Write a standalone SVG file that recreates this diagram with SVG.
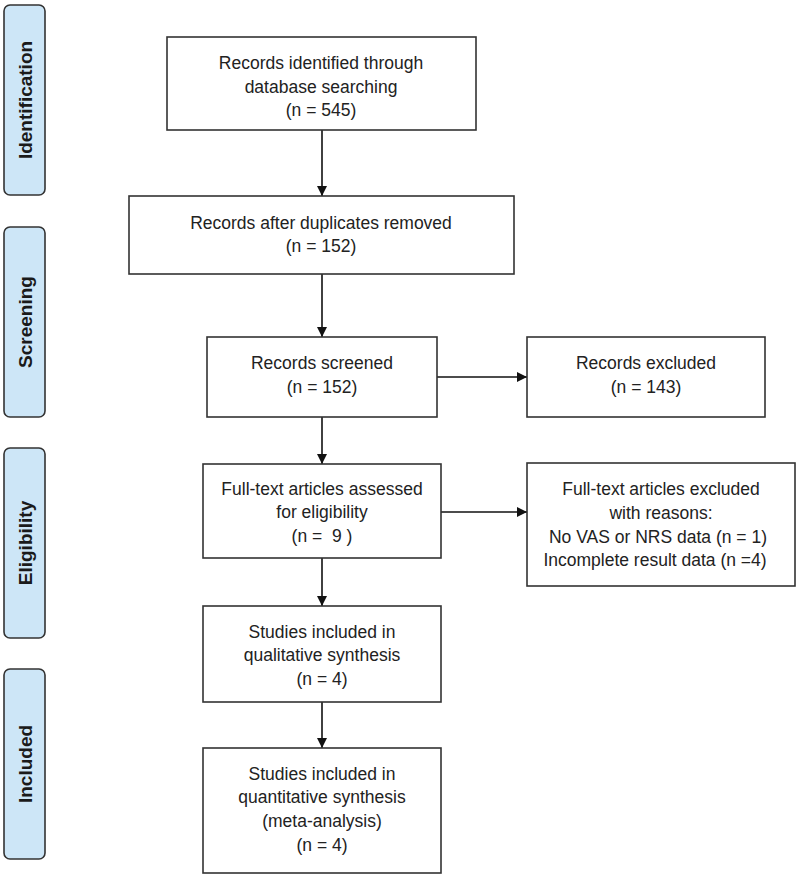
<svg xmlns="http://www.w3.org/2000/svg" width="800" height="880" viewBox="0 0 800 880">
<defs>
<style>
.box{fill:#fff;stroke:#333;stroke-width:1.6}
.lab{fill:#cde6f7;stroke:#333;stroke-width:1.6}
.t{font-family:"Liberation Sans",Arial,sans-serif;font-size:17.5px;fill:#222;text-anchor:middle}
.s{font-family:"Liberation Sans",Arial,sans-serif;font-size:19px;font-weight:bold;fill:#1a1a1a;text-anchor:middle}
.c{stroke:#111;stroke-width:1.6;fill:none;marker-end:url(#ah)}
</style>
<marker id="ah" viewBox="0 0 10 10" refX="10" refY="5" markerWidth="10" markerHeight="10" markerUnits="userSpaceOnUse" orient="auto">
<path d="M0,0 L10,5 L0,10 z" fill="#111"/>
</marker>
</defs>
<rect width="800" height="880" fill="#fff"/>
<g id="stage-identification"><rect class="lab" x="4" y="5" width="41" height="190" rx="6"/><text class="s" transform="translate(32,100) rotate(-90)">Identification</text></g>
<g id="stage-screening"><rect class="lab" x="4" y="227" width="41" height="190" rx="6"/><text class="s" transform="translate(32,322) rotate(-90)">Screening</text></g>
<g id="stage-eligibility"><rect class="lab" x="4" y="448" width="41" height="190" rx="6"/><text class="s" transform="translate(32,543) rotate(-90)">Eligibility</text></g>
<g id="stage-included"><rect class="lab" x="4" y="669" width="41" height="190" rx="6"/><text class="s" transform="translate(32,764) rotate(-90)">Included</text></g>

<g id="connectors">
<line class="c" x1="322" y1="130" x2="322" y2="196"/>
<line class="c" x1="322" y1="274" x2="322" y2="337"/>
<line class="c" x1="322" y1="417" x2="322" y2="464"/>
<line class="c" x1="322" y1="558" x2="322" y2="606"/>
<line class="c" x1="322" y1="702" x2="322" y2="748"/>
<line class="c" x1="437" y1="377" x2="527" y2="377"/>
<line class="c" x1="441" y1="512" x2="527" y2="512"/>
</g>

<g id="n-identified"><rect class="box" x="167" y="37" width="309" height="93"/>
<text class="t" x="321" y="69">Records identified through</text>
<text class="t" x="321" y="93">database searching</text>
<text class="t" x="321" y="116">(n = 545)</text></g>
<g id="n-duplicates"><rect class="box" x="129" y="196" width="385" height="78"/>
<text class="t" x="321" y="229">Records after duplicates removed</text>
<text class="t" x="321" y="252">(n = 152)</text></g>
<g id="n-screened"><rect class="box" x="207" y="337" width="230" height="80"/>
<text class="t" x="322" y="369">Records screened</text>
<text class="t" x="322" y="393">(n = 152)</text></g>
<g id="n-rec-excluded"><rect class="box" x="527" y="337" width="238" height="80"/>
<text class="t" x="646" y="369">Records excluded</text>
<text class="t" x="646" y="393">(n = 143)</text></g>
<g id="n-fulltext"><rect class="box" x="203" y="464" width="238" height="94"/>
<text class="t" x="322" y="495">Full-text articles assessed</text>
<text class="t" x="322" y="518">for eligibility</text>
<text class="t" x="322" y="542">(n =&#160; 9 )</text></g>
<g id="n-ft-excluded"><rect class="box" x="527" y="463" width="268" height="123"/>
<text class="t" x="661" y="495">Full-text articles excluded</text>
<text class="t" x="661" y="519">with reasons:</text>
<text class="t" x="658" y="543">No VAS or NRS data (n = 1)</text>
<text class="t" x="655" y="566">Incomplete result data (n =4)</text></g>
<g id="n-qualitative"><rect class="box" x="203" y="606" width="238" height="96"/>
<text class="t" x="322" y="638">Studies included in</text>
<text class="t" x="322" y="661">qualitative synthesis</text>
<text class="t" x="322" y="685">(n = 4)</text></g>
<g id="n-quantitative"><rect class="box" x="203" y="748" width="238" height="125"/>
<text class="t" x="322" y="780">Studies included in</text>
<text class="t" x="322" y="803">quantitative synthesis</text>
<text class="t" x="322" y="827">(meta-analysis)</text>
<text class="t" x="322" y="851">(n = 4)</text></g>
</svg>
